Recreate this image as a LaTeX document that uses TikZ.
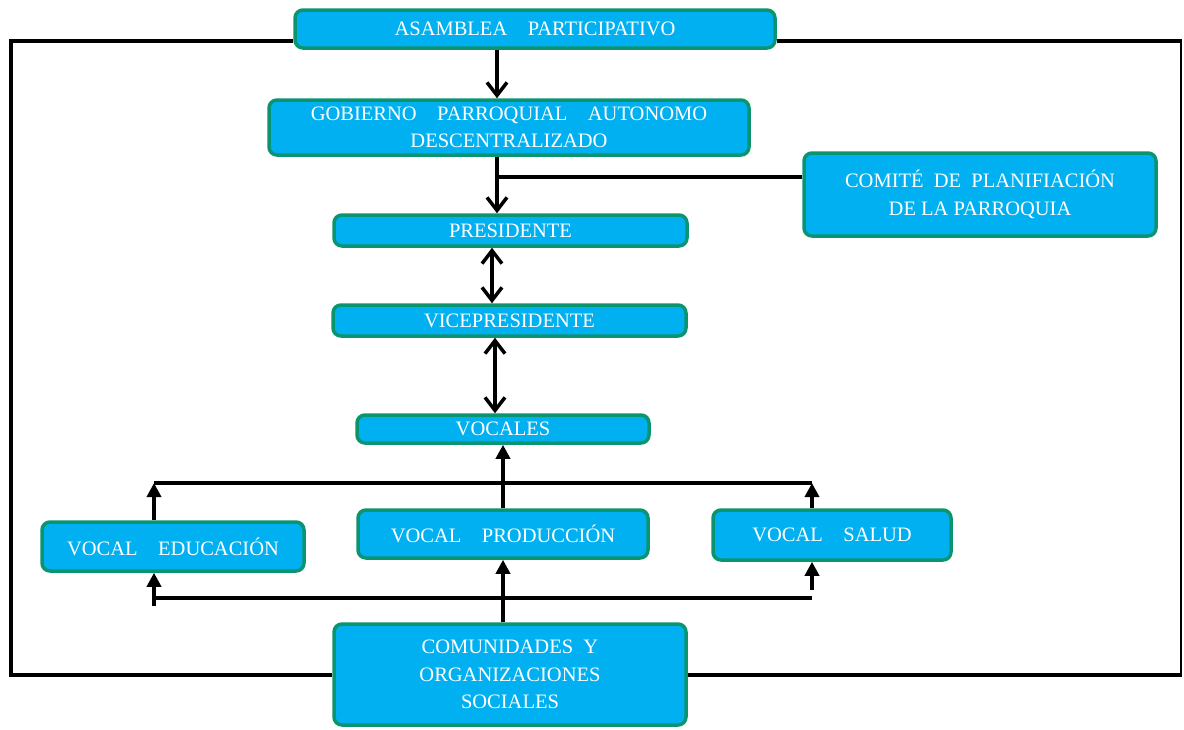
\documentclass[tikz,border=0pt]{standalone}
\usepackage{fontspec}
\setmainfont{Liberation Serif}
\usetikzlibrary{arrows.meta}
\definecolor{boxfill}{HTML}{00B0F0}
\definecolor{boxedge}{HTML}{0A9470}
\newcommand\wgap{\hspace{1em}}
\newcommand\ngap{\hspace{0.5em}}
\tikzset{
  orgbox/.style={draw=boxedge, fill=boxfill, line width=3.5pt, rounded corners=8pt,
    text=white, align=center, inner sep=0pt,
    font=\fontsize{20.5}{27.5}\selectfont},
  barb/.tip={Straight Barb[length=13pt,width=20pt,line width=3.5pt]},
  mainarrow/.style={line width=4pt, -barb},
  dblarrow/.style={line width=4pt, barb-barb},
  smallarrow/.style={line width=3.5pt, -{Triangle[length=14pt,width=14pt]}},
  plainline/.style={line width=3.5pt},
  loopline/.style={line width=3.5pt, line join=miter}
}
\begin{document}
\begin{tikzpicture}[x=1pt,y=-1pt]
\useasboundingbox (0,0) rectangle (1184,729);
% boxes
\node[orgbox, minimum width=480, minimum height=38] (asam) at (535,29) {ASAMBLEA\wgap PARTICIPATIVO};
\node[orgbox, minimum width=480, minimum height=55] (gob) at (509,127.5) {GOBIERNO\wgap PARROQUIAL\wgap AUTONOMO\\DESCENTRALIZADO};
\node[orgbox, minimum width=352, minimum height=83] (comite) at (980,194.5) {COMITÉ\ngap DE\ngap PLANIFIACIÓN\\DE LA PARROQUIA};
\node[orgbox, minimum width=353, minimum height=31] (pres) at (510.5,230.5) {PRESIDENTE};
\node[orgbox, minimum width=353, minimum height=31] (vice) at (509.5,320.5) {VICEPRESIDENTE};
\node[orgbox, minimum width=292, minimum height=28] (voc) at (503,429) {VOCALES};
\node[orgbox, minimum width=262, minimum height=49] (edu) at (173,546.5) {VOCAL\wgap EDUCACIÓN};
\node[orgbox, minimum width=290, minimum height=48] (prod) at (503,534) {VOCAL\wgap PRODUCCIÓN};
\node[orgbox, minimum width=238, minimum height=50] (salud) at (832,535) {VOCAL\wgap SALUD};
\node[orgbox, minimum width=352, minimum height=101] (com) at (510,674.5) {COMUNIDADES\ngap Y\\ORGANIZACIONES\\SOCIALES};
% helper coordinates
\coordinate (s1) at (497,0);
\coordinate (j1) at (497,177);
\coordinate (s2) at (492,0);
\coordinate (s3) at (495,0);
\coordinate (hl) at (154,483);
\coordinate (hr) at (812,483);
\coordinate (bl) at (154,598);
\coordinate (blx) at (154,606);
\coordinate (br) at (812,598);
\coordinate (brx) at (812,590);
\coordinate (tl) at (11,41);
\coordinate (tr) at (1181,41);
\coordinate (ll) at (11,675);
\coordinate (lr) at (1181,675);
% main spine
\draw[mainarrow] (asam.south -| s1) -- (gob.north -| s1);
\draw[mainarrow] (gob.south -| j1) -- (pres.north -| j1);
\draw[plainline] (comite.west |- j1) -- (j1);
\draw[dblarrow] (pres.south -| s2) -- (vice.north -| s2);
\draw[dblarrow] (vice.south -| s3) -- (voc.north -| s3);
% vocales tree
\draw[smallarrow] (prod.north) -- (voc.south);
\draw[plainline] (hl) -- (hr);
\draw[smallarrow] (edu.north -| hl) -- (hl);
\draw[smallarrow] (salud.north -| hr) -- (hr);
\draw[plainline] (bl) -- (br);
\draw[smallarrow] (blx) -- (edu.south -| blx);
\draw[smallarrow] (brx) -- (salud.south -| brx);
\draw[smallarrow] (com.north -| prod.south) -- (prod.south);
% outer loop
\draw[loopline] (asam.west |- tl) -- (tl) -- (ll) -- (com.west |- ll);
\draw[line width=3.5pt] (asam.east |- tr) -- ([xshift=1pt]tr);
\draw[line width=2.5pt] (tr) -- (lr);
\draw[line width=3.5pt] (com.east |- lr) -- ([xshift=1pt]lr);
\end{tikzpicture}
\end{document}
